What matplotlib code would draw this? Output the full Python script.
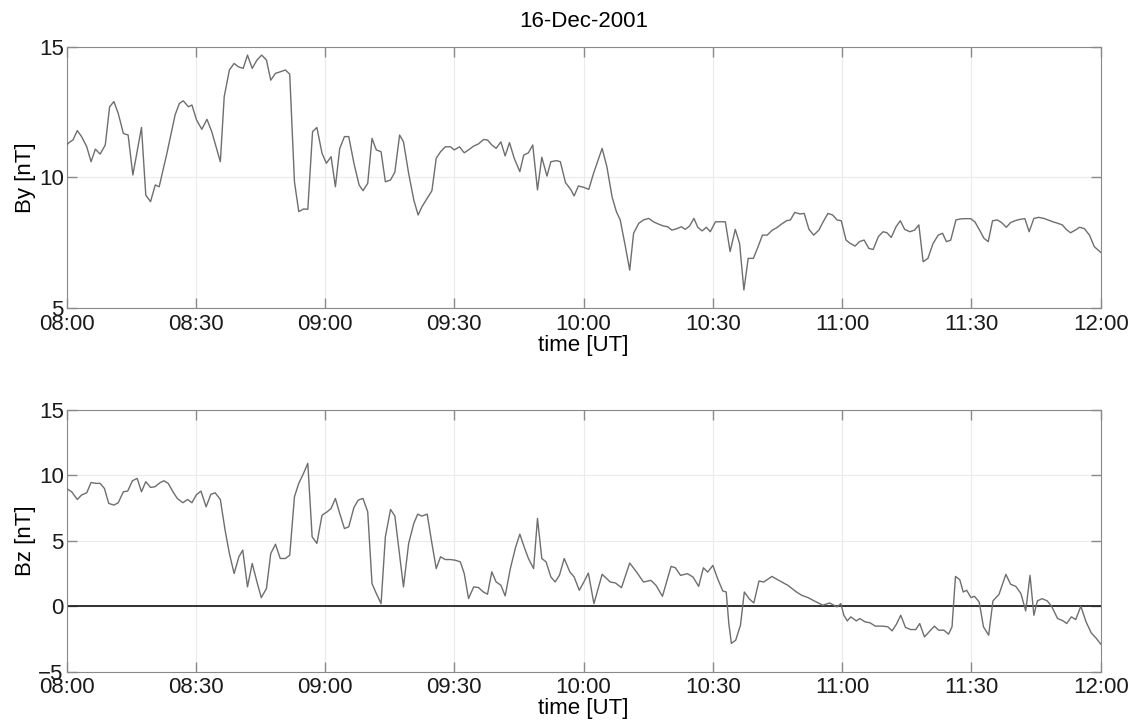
import numpy as np
import matplotlib
matplotlib.use("Agg")
import matplotlib.pyplot as plt
import matplotlib.dates as mdates

# minutes after 08:00 UT and field values
by_min = [0, 0.8, 1.5, 2.5, 3.5, 4.7, 5.7, 6.7, 7.8, 9, 10, 11, 12, 13.2, 14.3, 15.4, 17.4, 18.4,
          19.5, 20.6, 21.5, 23.3, 25.2, 26.2, 27.1, 28.3, 29.1, 30.2, 31.4, 32.6, 33.7, 35.7, 36.6,
          37.8, 38.9, 39.9, 41, 42, 43.1, 44.2, 45.3, 46.4, 47.4, 48.5, 49.6, 50.8, 51.8, 52.9, 53.9,
          55, 56, 57.1, 58.1, 59.3, 60.3, 61.4, 62.4, 63.4, 64.5, 65.5, 66.7, 67.9, 68.8, 69.9, 70.9,
          71.9, 73, 74, 75.2, 76.2, 77.3, 78.2, 79.4, 80.6, 81.6, 82.5, 83.7, 84.8, 85.8, 86.8, 87.9,
          89.1, 90, 91.2, 92.3, 93.3, 94.5, 95.6, 96.8, 97.7, 98.7, 99.7, 100.8, 101.8, 102.8, 103.9,
          105.2, 106.1, 107.2, 108.2, 109.3, 110.3, 111.5, 112.4, 113.7, 114.6, 115.8, 117, 117.8,
          118.8, 120, 121.2, 122.3, 124.3, 125.4, 126.6, 127.6, 128.5, 129.7, 130.7, 131.6, 132.8,
          133.9, 135.1, 136.2, 137.4, 138.5, 139.5, 140.5, 141.7, 142.7, 143.6, 144.6, 145.6, 146.5,
          147.5, 148.5, 149.4, 150.6, 151.7, 152.9, 154, 155.2, 156.2, 157.2, 158.2, 159.4, 160.5,
          161.5, 162.6, 163.8, 164.8, 165.9, 167.1, 168, 169, 170.2, 171.2, 172.3, 173.4, 174.6,
          175.6, 176.7, 177.8, 178.8, 179.8, 180.9, 181.9, 183, 184, 185.1, 186.2, 187.2, 188.4,
          189.5, 190.4, 191.4, 192.5, 193.5, 194.5, 195.7, 196.8, 197.8, 198.8, 199.9, 201.1, 202.3,
          203.3, 204.2, 205.2, 206.4, 207.5, 208.6, 209.8, 210.8, 211.9, 212.9, 213.9, 214.9, 216,
          217, 218.1, 219.1, 220.1, 221.2, 222.4, 223.4, 224.5, 225.6, 226.8, 227.8, 228.9, 230.1,
          231.1, 232, 233, 234.1, 235.1, 236.2, 237.4, 238.5, 240]
by_val = [11.24, 11.36, 11.43, 11.79, 11.56, 11.17, 10.6, 11.08, 10.89, 11.24, 12.7, 12.9, 12.45,
          11.68, 11.62, 10.09, 11.91, 9.32, 9.07, 9.71, 9.64, 10.92, 12.39, 12.83, 12.93, 12.7,
          12.77, 12.19, 11.84, 12.22, 11.75, 10.6, 13.09, 14.11, 14.36, 14.23, 14.17, 14.68, 14.17,
          14.49, 14.68, 14.49, 13.72, 13.98, 14.04, 14.11, 13.95, 9.83, 8.69, 8.79, 8.78, 11.75,
          11.91, 10.92, 10.54, 10.79, 9.64, 11.1, 11.56, 11.56, 10.54, 9.71, 9.49, 9.77, 11.49,
          11.05, 10.98, 9.83, 9.9, 10.2, 11.62, 11.36, 10.15, 9.13, 8.56, 8.88, 9.2, 9.49, 10.73,
          10.98, 11.17, 11.17, 11.05, 11.17, 10.94, 11.05, 11.2, 11.28, 11.45, 11.43, 11.24, 11.11,
          11.36, 10.82, 11.33, 10.73, 10.22, 10.85, 10.94, 11.24, 9.52, 10.77, 10.05, 10.6, 10.64,
          10.6, 9.8, 9.54, 9.29, 9.67, 9.62, 9.54, 10.15, 11.11, 10.41, 9.26, 8.69, 8.37, 7.35, 6.45,
          7.86, 8.24, 8.37, 8.43, 8.3, 8.21, 8.14, 8.11, 7.98, 8.04, 8.11, 8.01, 8.14, 8.43, 8.09,
          7.95, 8.09, 7.92, 8.3, 8.3, 8.3, 7.16, 8.01, 7.47, 5.69, 6.9, 6.9, 7.35, 7.79, 7.79, 7.98,
          8.07, 8.21, 8.34, 8.37, 8.66, 8.6, 8.62, 8.01, 7.79, 7.98, 8.3, 8.62, 8.56, 8.37, 8.34, 7.6,
          7.47, 7.37, 7.54, 7.6, 7.28, 7.24, 7.73, 7.92, 7.88, 7.7, 8.11, 8.34, 8.01, 7.92, 7.98,
          8.18, 6.77, 6.9, 7.47, 7.79, 7.86, 7.54, 7.6, 8.37, 8.41, 8.42, 8.42, 8.3, 7.98, 7.67,
          7.54, 8.34, 8.37, 8.27, 8.09, 8.27, 8.34, 8.39, 8.42, 7.92, 8.43, 8.47, 8.43, 8.37, 8.3,
          8.24, 8.18, 8.01, 7.88, 7.98, 8.09, 8.04, 7.79, 7.35, 7.13]

bz_min = [0, 1.2, 2.5, 3.5, 4.7, 5.7, 6.8, 7.8, 8.8, 9.8, 11, 12, 13.2, 14.2, 15.3, 16.4, 17.4, 18.4,
          19.5, 20.5, 21.7, 22.6, 23.6, 24.7, 25.7, 27, 28.1, 29.1, 30.1, 31.2, 32.4, 33.5, 34.5,
          35.7, 36.8, 37.8, 38.9, 40, 40.9, 42, 43.1, 44.2, 45.2, 46.4, 47.4, 48.5, 49.6, 50.8, 51.8,
          52.9, 53.9, 55, 56, 57, 58.1, 59.3, 60.5, 61.4, 62.4, 63.4, 64.5, 65.5, 66.7, 67.7, 68.8,
          69.9, 70.9, 71.9, 73, 74, 75.2, 76.2, 78.2, 79.4, 80.6, 81.5, 82.5, 83.7, 84.8, 85.8, 86.8,
          87.9, 89.1, 90.2, 91.4, 92.3, 93.3, 94.5, 95.6, 96.7, 97.7, 98.7, 99.7, 100.8, 101.8, 103,
          104.2, 105.2, 106.2, 107.2, 108.4, 109.3, 110.3, 111.3, 112.4, 113.4, 114.4, 115.5, 116.8,
          117.8, 119, 120.2, 121.1, 122.4, 124.3, 126.2, 127.4, 128.8, 130.7, 132.3, 133.9, 135.6,
          136.8, 138.3, 140.3, 141.3, 142.5, 144.1, 145.4, 146.7, 147.8, 148.8, 150, 151.1, 152.3,
          153.1, 153.7, 154.3, 155.3, 156.4, 157.3, 158.4, 159.5, 160.7, 161.8, 163.7, 165.3, 167.4,
          169.4, 170.6, 172.1, 173.5, 175.5, 177.1, 178.8, 179.7, 180.4, 181.2, 182, 183.3, 184.1,
          185.3, 186.5, 187.7, 189.4, 190.6, 191.6, 192.6, 193.6, 194.7, 195.9, 197.1, 198, 199.1,
          200.4, 201.4, 202.4, 203.6, 204.7, 205.5, 206.3, 207.3, 208.1, 208.9, 209.9, 210.7, 211.8,
          212.8, 214, 215, 216.4, 218, 219.1, 220.3, 221.5, 222.6, 223.6, 224.5, 225.3, 226.4, 227.6,
          228.6, 230, 231.3, 232.1, 233.2, 234.2, 235.4, 236.6, 237.8, 239, 240]
bz_val = [9.0, 8.75, 8.16, 8.5, 8.67, 9.46, 9.39, 9.39, 9.0, 7.86, 7.73, 7.91, 8.75, 8.8, 9.59, 9.77,
          8.75, 9.52, 9.08, 9.13, 9.44, 9.59, 9.39, 8.75, 8.24, 7.91, 8.16, 7.91, 8.5, 8.8, 7.6, 8.55,
          8.67, 8.16, 5.82, 4.03, 2.5, 3.78, 4.29, 1.48, 3.27, 1.86, 0.66, 1.35, 4.03, 4.74, 3.65,
          3.65, 3.9, 8.37, 9.39, 10.15, 10.92, 5.31, 4.8, 6.96, 7.22, 7.47, 8.24, 7.09, 5.94, 6.07,
          7.55, 8.11, 8.24, 7.22, 1.73, 0.97, 0.2, 5.31, 7.4, 6.9, 1.48, 4.8, 6.33, 7.04, 6.89, 7.04,
          4.8, 2.88, 3.78, 3.57, 3.57, 3.52, 3.39, 2.5, 0.59, 1.48, 1.43, 1.1, 0.92, 2.63, 1.86,
          1.61, 0.79, 2.88, 4.49, 5.51, 4.54, 3.65, 2.88, 6.71, 3.65, 3.39, 2.24, 1.86, 2.37, 3.65,
          2.63, 2.24, 1.22, 1.94, 2.54, 0.2, 2.44, 1.85, 1.78, 1.42, 3.3, 2.61, 1.85, 1.98, 1.6,
          0.76, 3.05, 2.94, 2.36, 2.49, 2.23, 1.52, 2.94, 2.61, 3.12, 2.11, 1.17, 1.09, -1.32, -2.84,
          -2.59, -1.45, 1.09, 0.58, 0.25, 1.93, 1.85, 2.28, 1.98, 1.6, 1.09, 0.84, 0.66, 0.41, 0.08,
          0.25, -0.05, 0.2, -0.69, -1.12, -0.81, -1.12, -0.94, -1.19, -1.27, -1.52, -1.52, -1.57,
          -1.88, -1.37, -0.69, -1.62, -1.78, -1.78, -1.32, -2.34, -1.88, -1.52, -1.83, -1.83, -2.13,
          -1.57, 2.28, 2.03, 1.09, 1.22, 0.66, 0.76, 0.33, -1.57, -2.21, 0.41, 0.91, 2.44, 1.68,
          1.52, 0.96, -0.36, 2.36, -0.69, 0.41, 0.58, 0.41, 0.0, -0.94, -1.12, -1.32, -0.81, -1.02,
          0.0, -1.19, -2.03, -2.46, -2.89]

by_ticks = [5, 10, 15]
bz_ticks = [-5, 0, 5, 10, 15]

start = np.datetime64("2001-12-16T08:00:00")


def to_time(mins):
    secs = np.round(np.array(mins) * 60).astype(int)
    return start + secs.astype("timedelta64[s]")


plt.rcParams["font.family"] = ["Liberation Sans", "DejaVu Sans"]
plt.rcParams["font.size"] = 16

fig = plt.figure(figsize=(11.31, 7.21), dpi=100)
ax1 = fig.add_axes([0.0588, 0.5728, 0.9144, 0.3624])
ax2 = fig.add_axes([0.0588, 0.0684, 0.9144, 0.3630])

line_col = "#6e6e6e"
spine_col = "#8a8a8a"

panels = [
    (ax1, to_time(by_min), by_val, "By [nT]", (5, 15), by_ticks),
    (ax2, to_time(bz_min), bz_val, "Bz [nT]", (-5, 15), bz_ticks),
]

for ax, t, v, lab, ylim, yt in panels:
    ax.grid(True, color="#ebebeb", linewidth=0.8)
    ax.set_axisbelow(True)
    if ylim[0] < 0:
        ax.axhline(0, color="#222222", linewidth=1.3, zorder=2)
    ax.plot(t, v, color=line_col, linewidth=1.0, zorder=3)
    ax.set_xlim(start, start + np.timedelta64(240, "m"))
    ax.set_ylim(*ylim)
    ax.set_yticks(yt)
    ax.xaxis.set_major_locator(mdates.MinuteLocator(byminute=[0, 30]))
    ax.xaxis.set_major_formatter(mdates.DateFormatter("%H:%M"))
    ax.tick_params(direction="in", length=7, width=1, color=spine_col,
                   top=True, right=True, labelcolor="#1a1a1a")
    ax.tick_params(axis="y", pad=2)
    ax.tick_params(axis="x", pad=4)
    for s in ax.spines.values():
        s.set_color(spine_col)
    ax.set_ylabel(lab, labelpad=2)
    ax.set_xlabel("time [UT]", labelpad=0)

ax1.set_title("16-Dec-2001", fontsize=16, pad=14)

fig.savefig("out.png", dpi=100)
